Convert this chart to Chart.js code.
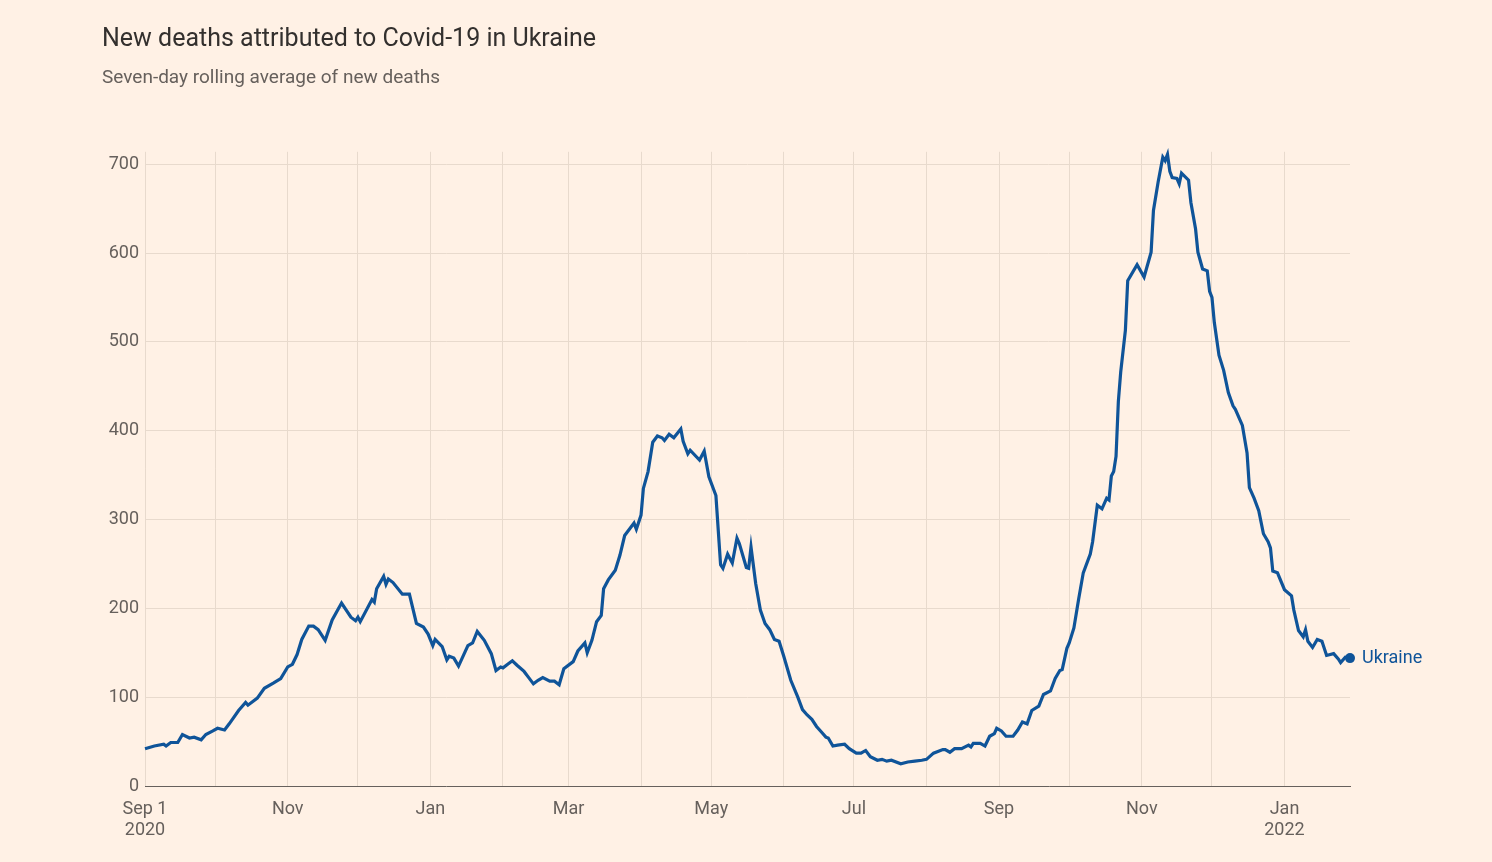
<!DOCTYPE html>
<html>
<head>
<meta charset="utf-8">
<script src="https://cdn.jsdelivr.net/npm/chart.js@4.4.1/dist/chart.umd.min.js"></script>
<style>
  html, body { margin: 0; padding: 0; background: #fff1e5; }
  #wrap { width: 1492px; height: 862px; }
</style>
</head>
<body>
<div id="wrap"><canvas id="c" width="1492" height="862"></canvas></div>
<script>
// ---- Data (days since 1 Sep 2020, seven-day average of new deaths) ----
const dayOffsets = [0,4,8,9,11,14,16,19,21,24,26,29,31,34,36,40,43,44,48,51,55,58,61,63,65,67,70,72,74,77,80,84,88,90,91,92,97,98,99,102,103,104,106,110,113,116,119,121,123,124,127,129,130,132,134,138,140,142,145,148,150,152,153,155,157,159,162,164,166,168,170,173,175,177,179,183,185,188,189,191,193,195,196,198,201,203,205,209,210,212,213,215,217,219,221,222,224,226,229,230,232,233,237,239,241,244,246,247,249,251,253,254,257,258,259,261,263,265,267,269,271,273,276,279,281,283,285,287,289,291,292,294,296,299,301,304,306,308,310,313,315,317,319,323,326,329,332,334,337,341,342,344,346,349,352,353,354,357,359,361,363,364,366,368,371,373,375,377,379,382,384,387,389,391,392,394,395,397,399,401,404,405,407,409,411,412,413,414,415,416,417,419,420,424,427,430,431,433,435,436,437,438,439,441,442,443,446,447,449,450,452,454,455,456,457,459,461,463,465,466,469,471,472,474,476,478,480,481,482,484,487,490,491,493,495,496,497,499,501,503,505,508,510,511,513,515];
const deaths = [42,45,47,45,49,49,58,54,55,52,58,62,65,63,70,85,94,91,99,110,116,121,134,137,148,165,180,180,176,164,187,206,190,186,190,185,210,207,222,236,227,233,229,216,216,183,179,171,158,165,157,142,146,144,135,158,161,174,164,149,130,134,133,137,141,136,129,122,115,119,122,118,118,114,132,140,152,161,150,164,185,192,222,232,243,260,282,296,289,305,335,354,387,394,392,389,396,392,402,388,374,378,367,377,348,327,249,245,261,251,279,273,246,245,269,228,198,183,176,165,163,146,119,100,86,80,75,67,61,55,54,45,46,47,42,37,37,40,33,29,30,28,29,25,27,28,29,30,37,41,41,38,42,42,46,44,48,48,45,56,59,65,62,56,56,63,72,70,85,90,103,107,121,130,131,155,161,178,210,240,261,275,316,312,324,322,349,354,371,433,466,513,569,587,573,601,648,680,708,704,711,692,685,684,678,690,682,657,627,601,582,580,557,550,522,485,468,443,428,424,406,375,336,324,310,284,275,268,242,240,221,214,198,175,168,176,163,156,165,163,147,149,143,139,145,144];
const seriesName = 'Ukraine';

// ---- Axis ticks ----
const monthTickDays = [0,30,61,91,122,153,181,212,242,273,303,334,365,395,426,456,487];
const monthTickLabels = [['Sep 1','2020'],'','Nov','','Jan','','Mar','','May','','Jul','','Sep','','Nov','',['Jan','2022']];
const yTickValues = [0,100,200,300,400,500,600,700];

const titleText = 'New deaths attributed to Covid-19 in Ukraine';
const subtitleText = 'Seven-day rolling average of new deaths';

const FONT = 'Roboto, "Noto Sans", sans-serif';
const LINE = '#0f5499';
const GRID = '#e8dacd';
const TEXT = '#66605c';

const points = dayOffsets.map((d, i) => ({ x: d, y: deaths[i] }));

const endLabel = {
  id: 'endLabel',
  afterDatasetsDraw(chart) {
    const meta = chart.getDatasetMeta(0);
    const pt = meta.data[meta.data.length - 1];
    const ctx = chart.ctx;
    ctx.save();
    ctx.font = '18px ' + FONT;
    ctx.fillStyle = LINE;
    ctx.textAlign = 'left';
    ctx.textBaseline = 'middle';
    ctx.fillText(seriesName, pt.x + 12, pt.y);
    ctx.restore();
  }
};

new Chart(document.getElementById('c'), {
  type: 'line',
  data: {
    datasets: [{
      label: seriesName,
      data: points,
      borderColor: LINE,
      backgroundColor: LINE,
      borderWidth: 3.2,
      tension: 0,
      clip: false,
      pointRadius: ctx => ctx.dataIndex === points.length - 1 ? 5 : 0,
      pointHoverRadius: 0,
      pointBorderWidth: 0
    }]
  },
  options: {
    responsive: false,
    animation: false,
    events: [],
    layout: { padding: { left: 102, right: 142, top: 0, bottom: 0 } },
    plugins: {
      legend: { display: false },
      tooltip: { enabled: false },
      title: {
        display: true, text: titleText, align: 'start', color: '#33302e',
        font: { family: FONT, size: 25, weight: 'normal' },
        padding: { top: 25, bottom: 0 }
      },
      subtitle: {
        display: true, text: subtitleText, align: 'start', color: TEXT,
        font: { family: FONT, size: 19, weight: 'normal' },
        padding: { top: 12, bottom: 62 }
      }
    },
    scales: {
      x: {
        type: 'linear', min: 0, max: 515,
        afterBuildTicks: s => { s.ticks = monthTickDays.map(v => ({ value: v })); },
        afterFit: s => { s.height = 76; },
        grid: { color: GRID, lineWidth: 1, drawTicks: false },
        border: { display: true, color: '#66605c', width: 1 },
        ticks: {
          autoSkip: false, maxRotation: 0, padding: 13, color: TEXT,
          font: { family: FONT, size: 18, lineHeight: 1.15 },
          callback: (v, i) => monthTickLabels[i]
        }
      },
      y: {
        type: 'linear', min: 0, max: 714,
        afterBuildTicks: s => { s.ticks = yTickValues.map(v => ({ value: v })); },
        afterFit: s => { s.width = 43; },
        grid: { color: GRID, lineWidth: 1, drawTicks: false },
        border: { display: false },
        ticks: { padding: 6, color: TEXT, font: { family: FONT, size: 18 } }
      }
    }
  },
  plugins: [endLabel]
});
</script>
</body>
</html>
